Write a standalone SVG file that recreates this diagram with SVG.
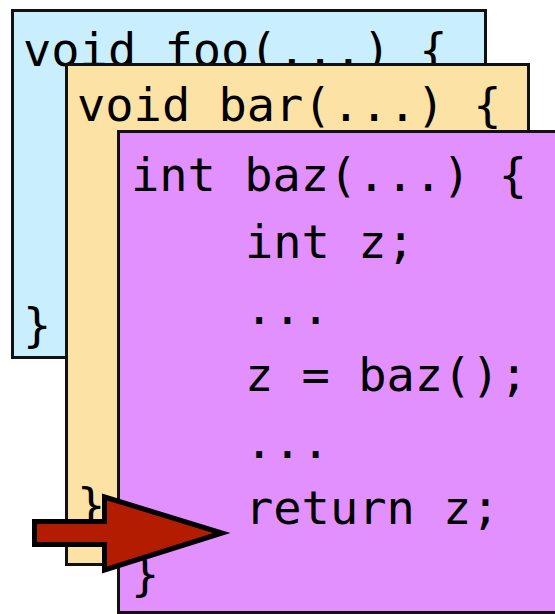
<svg xmlns="http://www.w3.org/2000/svg" width="555" height="614" viewBox="0 0 555 614">
  <style>
    .card { stroke: #111; stroke-width: 3; }
    .code { font-family: "DejaVu Sans Mono", "Liberation Mono", monospace; font-size: 47px; fill: #000; }
  </style>
  <rect width="555" height="614" fill="#fff"/>
  <g id="foo">
    <rect class="card" x="12.5" y="10.5" width="473" height="347" fill="#c9eefd"/>
    <text class="code" x="23" y="66">void foo(...) {</text>
    <text class="code" x="23" y="341">}</text>
  </g>
  <g id="bar">
    <rect class="card" x="66.5" y="64.5" width="462" height="500" fill="#fde2a6"/>
    <text class="code" x="77" y="121">void bar(...) {</text>
    <text class="code" x="77" y="521">}</text>
  </g>
  <g id="baz">
    <rect class="card" x="118.5" y="131.5" width="440" height="481" fill="#e290fd"/>
    <text class="code" x="131" y="191">int baz(...) {</text>
    <text class="code" x="245" y="257.5">int z;</text>
    <text class="code" x="245" y="324">...</text>
    <text class="code" x="245" y="391">z = baz();</text>
    <text class="code" x="245" y="457.5">...</text>
    <text class="code" x="245" y="524">return z;</text>
    <text class="code" x="131" y="590">}</text>
  </g>
  <g id="connectors">
    <path d="M34.5,521.5 L104.5,521.5 L104.5,497 L222,533 L104.5,570 L104.5,544.5 L34.5,544.5 Z" fill="#b31c00" stroke="#000" stroke-width="5" stroke-linejoin="miter"/>
  </g>
</svg>
